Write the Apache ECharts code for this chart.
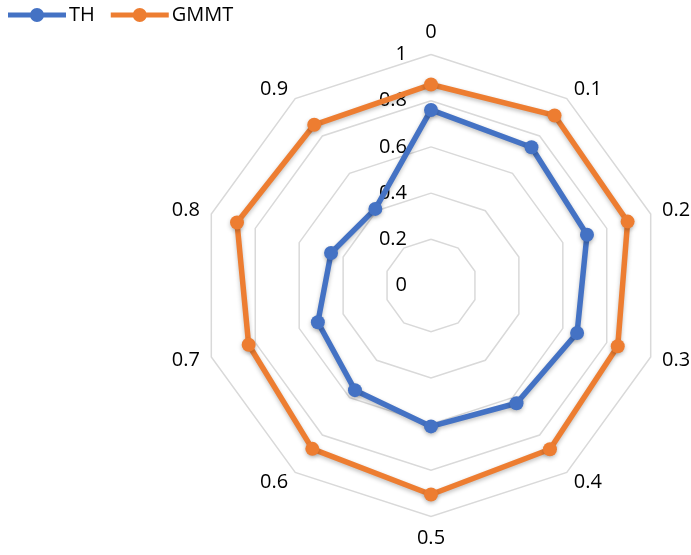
<!DOCTYPE html>
<html>
<head>
<meta charset="utf-8">
<script src="https://cdn.jsdelivr.net/npm/echarts@6/dist/echarts.min.js"></script>
<style>
  html, body { margin: 0; padding: 0; background: #fff; }
  #chart { width: 691px; height: 555px; }
</style>
</head>
<body>
<div id="chart"></div>
<script>
// Spoke labels, listed clockwise from the top
const categories = ['0', '0.1', '0.2', '0.3', '0.4', '0.5', '0.6', '0.7', '0.8', '0.9'];
const thValues   = [0.76, 0.74, 0.71, 0.665, 0.63, 0.61, 0.56, 0.515, 0.455, 0.41];
const gmmtValues = [0.87, 0.91, 0.895, 0.85, 0.876, 0.905, 0.874, 0.83, 0.883, 0.86];
const seriesNames = ['TH', 'GMMT'];
const colors = ['#4472C4', '#ED7D31'];

// ECharts lays radar spokes out counter-clockwise; reorder so they run clockwise
const order = [0].concat(categories.slice(1).map((_, i) => categories.length - 1 - i));
const reorder = arr => order.map(i => arr[i]);

const FONT = 'Open Sans';

// Legend key: a thick line with a round marker in the middle
const LINE_MARKER_ICON = 'path://M0,5 L58,5 L58,10 L0,10 Z ' +
  'M29,0.5 A7,7 0 0,1 36,7.5 A7,7 0 0,1 29,14.5 A7,7 0 0,1 22,7.5 A7,7 0 0,1 29,0.5 Z';

const chart = echarts.init(document.getElementById('chart'), null, { renderer: 'canvas' });

const lineSeries = (name, values, color) => ({
  value: reorder(values),
  name: name,
  symbol: 'circle',
  symbolSize: 14,
  lineStyle: { color: color, width: 5.5, shadowColor: 'rgba(0,0,0,0.25)', shadowBlur: 4, shadowOffsetY: 2 },
  itemStyle: { color: color, shadowColor: 'rgba(0,0,0,0.25)', shadowBlur: 4, shadowOffsetY: 2 }
});

chart.setOption({
  animation: false,
  color: colors,
  textStyle: { fontFamily: FONT },
  legend: {
    left: 3,
    top: 0,
    itemWidth: 58,
    itemHeight: 15,
    itemGap: 16,
    icon: LINE_MARKER_ICON,
    itemStyle: { shadowBlur: 0, shadowColor: 'transparent' },
    textStyle: { fontSize: 20, color: '#000', fontFamily: FONT, padding: [0, 0, 0, -2] },
    data: seriesNames
  },
  radar: {
    center: [431, 285.5],
    radius: 231,
    startAngle: 90,
    shape: 'polygon',
    splitNumber: 5,
    nameGap: 12,
    axisName: { color: '#000', fontSize: 20, fontFamily: FONT },
    indicator: reorder(categories).map((name, i) => {
      const ind = { name: name, min: 0, max: 1 };
      if (i === 0) ind.axisLabel = { show: true };
      return ind;
    }),
    axisLine: { show: false },
    axisTick: { show: false },
    axisLabel: { show: false, margin: 24, fontSize: 20, color: '#000', fontFamily: FONT },
    splitLine: { lineStyle: { color: '#d9d9d9', width: 1.5 } },
    splitArea: { show: false }
  },
  series: [{
    type: 'radar',
    data: [
      lineSeries(seriesNames[0], thValues, colors[0]),
      lineSeries(seriesNames[1], gmmtValues, colors[1])
    ]
  }]
});
</script>
</body>
</html>
